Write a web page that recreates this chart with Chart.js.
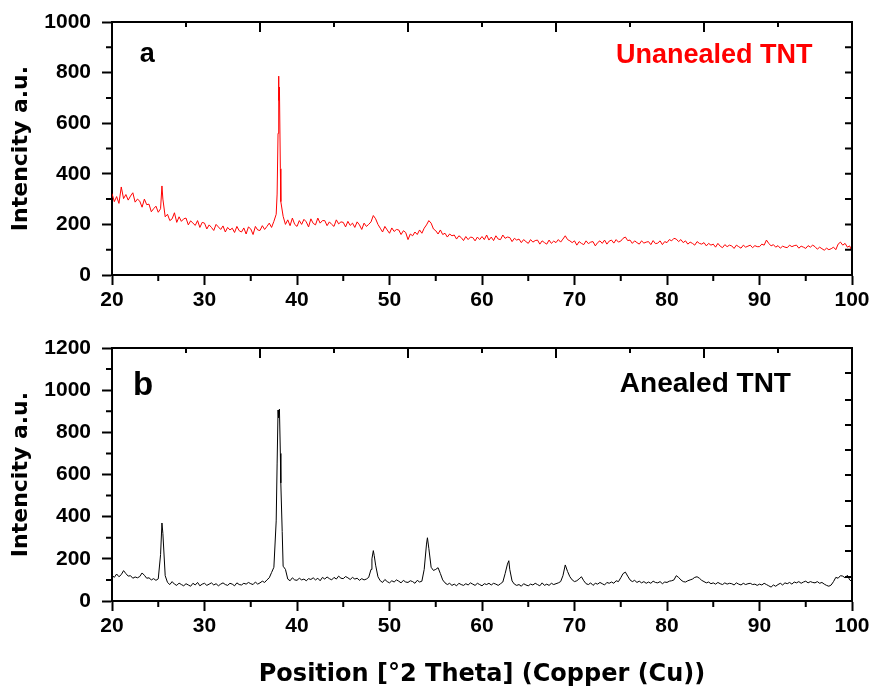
<!DOCTYPE html>
<html>
<head>
<meta charset="utf-8">
<script src="https://cdn.jsdelivr.net/npm/chart.js@4.4.1/dist/chart.umd.min.js"></script>
<style>
  html, body { margin: 0; padding: 0; background: #fff; overflow: hidden; }
  #wrap { position: relative; width: 872px; height: 686px; }
  #chartA { position: absolute; left: 0; top: 0; }
  #chartB { position: absolute; left: 0; top: 330px; }
</style>
</head>
<body>
<div id="wrap">
  <canvas id="chartA" width="872" height="325"></canvas>
  <canvas id="chartB" width="872" height="370"></canvas>
</div>
<script>
// scan grid: 2theta from 20 to 100 in 0.25 steps
const scanStart = 20;
const scanStep = 0.25;

// panel a - unannealed TNT (4 values per degree)
const unannealedGrid = [
  322, 290, 310, 283,   348, 302, 318, 296,   312, 325, 288, 300,   292, 268, 300, 278,
  280, 250, 262, 272,   248, 262, 300, 230,   240, 215, 222, 246,   208, 230, 212, 222,
  225, 198, 214, 205,   196, 215, 188, 208,   205, 182, 198, 188,   176, 200, 190, 180,
  194, 170, 188, 178,   185, 168, 192, 175,   170, 186, 162, 190,   182, 160, 192, 178,
  176, 195, 180, 192,   205, 188, 212, 240,   786, 290, 232, 200,   218, 195, 225, 200,
  192, 215, 200, 220,   210, 190, 222, 204,   198, 225, 205, 215,   215, 195, 210, 200,
  192, 218, 202, 210,   208, 190, 212, 196,   205, 188, 210, 198,   180, 205, 192, 200,
  210, 235, 222, 200,   185, 170, 192, 178,   165, 186, 172, 180,   178, 160, 175, 168,
  140, 162, 155, 170,   160, 178, 165, 185,   198, 215, 205, 182,   175, 162, 178, 160,
  165, 150, 162, 155,   158, 142, 155, 148,   136, 152, 140, 150,   148, 135, 150, 140,
  152, 140, 158, 138,   150, 136, 155, 142,   140, 158, 145, 150,   148, 132, 145, 138,
  142, 128, 140, 132,   125, 140, 130, 136,   138, 122, 135, 128,   122, 138, 125, 134,
  128, 140, 130, 142,   155, 140, 135, 128,   135, 118, 132, 125,   120, 135, 124, 130,
  132, 115, 128, 135,   125, 138, 122, 134,   138, 126, 140, 130,   134, 145, 150, 136,
  138, 125, 135, 128,   122, 135, 126, 130,   132, 120, 136, 124,   126, 135, 120, 132,
  128, 140, 135, 145,   142, 132, 140, 128,   135, 122, 130, 125,   118, 132, 125, 122,
  128, 115, 125, 118,   122, 110, 125, 114,   108, 120, 112, 118,   115, 105, 118, 112,
  106, 118, 110, 114,   118, 108, 116, 112,   112, 122, 118, 138,   125, 115, 120, 110,
  116, 106, 114, 110,   108, 118, 112, 116,   118, 106, 114, 110,   105, 116, 110, 118,
  112, 102, 110, 104,    98, 106, 100, 104,   110, 100, 122, 130,   118, 125, 110, 115,
  92
];
const unannealedPeakX = [25.4, 37.85, 37.95, 38.05, 38.1, 38.2];
const unannealedPeakY = [352, 320, 560, 690, 743, 420];

// panel b - annealed TNT
const annealedGrid = [
  122, 112, 128, 115,   125, 144, 130, 118,   120, 108, 114, 110,   116, 133, 122, 108,
  110, 100, 106,  98,   105, 220, 320, 120,    88,  78,  92,  80,    74,  85,  78,  72,
   82,  76,  70,  84,    76,  88,  72,  80,    84,  74,  80,  86,    76,  82,  72,  80,
   86,  78,  74,  84,    80,  72,  86,  78,    76,  84,  80,  88,    82,  78,  90,  80,
   86,  94,  88, 100,   110, 135, 160, 380,   870, 560, 165, 150,   104,  96, 110, 100,
   98, 108, 100, 104,    96, 106, 102, 110,   100, 108,  96, 112,   104, 114, 106, 100,
  112, 104, 118, 108,   106, 116, 110, 102,   112, 104, 108,  98,   106, 100, 104, 112,
  150, 239, 170, 115,    96,  88, 102,  92,    86,  96,  90, 100,    94,  86,  98,  90,
   88,  96,  92,  84,    98,  90,  94, 150,   270, 250, 160, 145,   150, 158, 130, 100,
   86,  78,  84,  74,    80,  72,  84,  78,    74,  82,  76,  86,    80,  74,  84,  78,
   72,  82,  78,  84,    76,  84,  80,  74,    82,  90, 130, 175,   150,  95,  80,  74,
   78,  70,  82,  76,    72,  80,  76,  84,    78,  72,  86,  74,    80,  74,  84,  78,
   82,  86,  92, 120,   171, 140, 115, 100,    92,  96, 105, 115,    96,  82,  78,  86,
   74,  84,  80,  88,    82,  76,  88,  84,    90,  84,  96,  92,   110, 130, 137, 118,
  100,  92,  98,  88,    94,  86,  92,  84,    90,  84,  94,  88,    86,  92,  82,  90,
   88,  94,  96, 100,   120, 112, 100,  92,    90,  96, 100, 104,   112, 115, 108,  98,
   92,  86,  90,  82,    86,  80,  88,  82,    78,  86,  80,  84,    82,  76,  86,  80,
   76,  84,  78,  82,    84,  78,  80,  74,    80,  76,  84,  78,    72,  66,  76,  70,
   78,  84,  76,  86,    82,  88,  80,  90,    86,  92,  84,  90,    94,  86,  92,  88,
   86,  92,  84,  88,    80,  74,  70,  76,    92, 112, 108, 120,   118, 110, 122, 100,
  92
];
const annealedPeakX = [25.4, 37.85, 37.95, 38.1, 38.2, 38.4, 48.1, 48.35, 54.1, 62.9];
const annealedPeakY = [370, 650, 906, 910, 700, 330, 200, 215, 300, 191];

// axis ticks
const xMajorTicks = [20, 30, 40, 50, 60, 70, 80, 90, 100];
const xMinorTicks = [25, 35, 45, 55, 65, 75, 85, 95];
const topFrameTicks = [28, 36, 44, 52, 60, 68, 76, 84, 92, 100];
const topFrameMajor = [36, 52, 68, 84, 100];
const yMinorA = [100, 300, 500, 700, 900];
const yMinorB = [100, 300, 500, 700, 900, 1100];
const rightTicksA = [100, 200, 300, 400, 500, 600, 700, 800, 900];
const rightTicksB = [114, 237, 356, 474, 598, 716, 835, 953, 1082];

function buildSeries(grid, peakX, peakY) {
  const pts = grid.map((v, i) => ({ x: scanStart + i * scanStep, y: v }));
  peakX.forEach((px, i) => pts.push({ x: px, y: peakY[i] }));
  return pts.sort((a, b) => a.x - b.x);
}

const tickFont = { family: 'Liberation Sans, Arial, sans-serif', size: 21, weight: 'bold' };

const frameTicks = {
  id: 'frameTicks',
  afterDraw(chart, args, opts) {
    const { ctx, chartArea: a, scales: { x, y } } = chart;
    ctx.save();
    ctx.strokeStyle = '#000';
    ctx.lineWidth = 2;
    ctx.beginPath();
    ctx.moveTo(a.left, a.top);
    ctx.lineTo(a.right, a.top);
    ctx.lineTo(a.right, a.bottom);
    topFrameTicks.forEach(v => {
      const px = x.getPixelForValue(v);
      ctx.moveTo(px, a.top);
      ctx.lineTo(px, a.top + (topFrameMajor.includes(v) ? 10 : 5));
    });
    opts.rightTicks.forEach(v => {
      const py = a.bottom - (v / opts.rightMax) * (a.bottom - a.top);
      ctx.moveTo(a.right, py);
      ctx.lineTo(a.right - 7, py);
    });
    xMinorTicks.forEach(v => {
      const px = x.getPixelForValue(v);
      ctx.moveTo(px, a.bottom);
      ctx.lineTo(px, a.bottom + 6);
    });
    opts.yMinor.forEach(v => {
      const py = y.getPixelForValue(v);
      ctx.moveTo(a.left, py);
      ctx.lineTo(a.left - 6, py);
    });
    ctx.stroke();

    opts.labels.forEach(l => {
      ctx.font = 'bold ' + l.size + 'px "Liberation Sans", Arial, sans-serif';
      ctx.fillStyle = l.color;
      ctx.textAlign = l.align;
      ctx.textBaseline = 'alphabetic';
      ctx.fillText(l.text, x.getPixelForValue(l.x), y.getPixelForValue(l.y));
    });
    ctx.restore();
  }
};

function makeChart(canvasId, cfg) {
  return new Chart(document.getElementById(canvasId), {
    type: 'line',
    data: {
      datasets: [{
        data: cfg.data,
        borderColor: cfg.color,
        borderWidth: 1,
        pointRadius: 0,
        tension: 0,
        fill: false
      }]
    },
    options: {
      responsive: false,
      animation: false,
      events: [],
      layout: { padding: { top: cfg.padTop, right: 20, left: 0, bottom: 0 } },
      plugins: {
        legend: { display: false },
        tooltip: { enabled: false },
        frameTicks: { rightTicks: cfg.rightTicks, rightMax: cfg.rightMax, yMinor: cfg.yMinor, labels: cfg.labels }
      },
      scales: {
        x: {
          type: 'linear',
          min: 20,
          max: 100,
          afterBuildTicks: s => { s.ticks = xMajorTicks.map(v => ({ value: v })); },
          afterFit: s => { s.height = cfg.xHeight; s.paddingLeft = 0; s.paddingRight = 0; },
          border: { display: true, color: '#000', width: 2 },
          grid: { drawOnChartArea: false, drawTicks: true, tickLength: 10, tickWidth: 2, tickColor: '#000' },
          ticks: { color: '#000', font: tickFont, padding: 3, maxRotation: 0, callback: v => String(v) },
          title: {
            display: !!cfg.xTitle,
            text: cfg.xTitle || '',
            color: '#000',
            font: { family: 'DejaVu Sans', size: 24, weight: 'bold' },
            padding: { top: 0, bottom: 11 }
          }
        },
        y: {
          min: 0,
          max: cfg.yMax,
          ticks: { stepSize: 200, color: '#000', font: tickFont, padding: 11, callback: v => String(v) },
          afterFit: s => { s.width = 112; s.paddingTop = 0; s.paddingBottom = 0; },
          border: { display: true, color: '#000', width: 2 },
          grid: { drawOnChartArea: false, drawTicks: true, tickLength: 10, tickWidth: 2, tickColor: '#000' },
          title: {
            display: true,
            text: 'Intencity a.u.',
            color: '#000',
            font: { family: 'DejaVu Sans', size: 22, weight: 'bold' },
            padding: { top: 8, bottom: 0 }
          }
        }
      }
    },
    plugins: [frameTicks]
  });
}

makeChart('chartA', {
  data: buildSeries(unannealedGrid, unannealedPeakX, unannealedPeakY),
  color: '#ff0000',
  yMax: 1000,
  padTop: 22,
  xHeight: 50,
  rightTicks: rightTicksA,
  rightMax: 1000,
  yMinor: yMinorA,
  labels: [
    { text: 'a', x: 23.8, y: 842, size: 27, color: '#000', align: 'center' },
    { text: 'Unanealed TNT', x: 85.1, y: 838, size: 27, color: '#ff0000', align: 'center' }
  ]
});

makeChart('chartB', {
  data: buildSeries(annealedGrid, annealedPeakX, annealedPeakY),
  color: '#000000',
  yMax: 1200,
  padTop: 18,
  xHeight: 99,
  xTitle: 'Position [\u00B02 Theta] (Copper (Cu))',
  rightTicks: rightTicksB,
  rightMax: 1200,
  yMinor: yMinorB,
  labels: [
    { text: 'b', x: 23.35, y: 977, size: 33, color: '#000', align: 'center' },
    { text: 'Anealed TNT', x: 74.9, y: 993, size: 28, color: '#000', align: 'left' }
  ]
});
</script>
</body>
</html>
